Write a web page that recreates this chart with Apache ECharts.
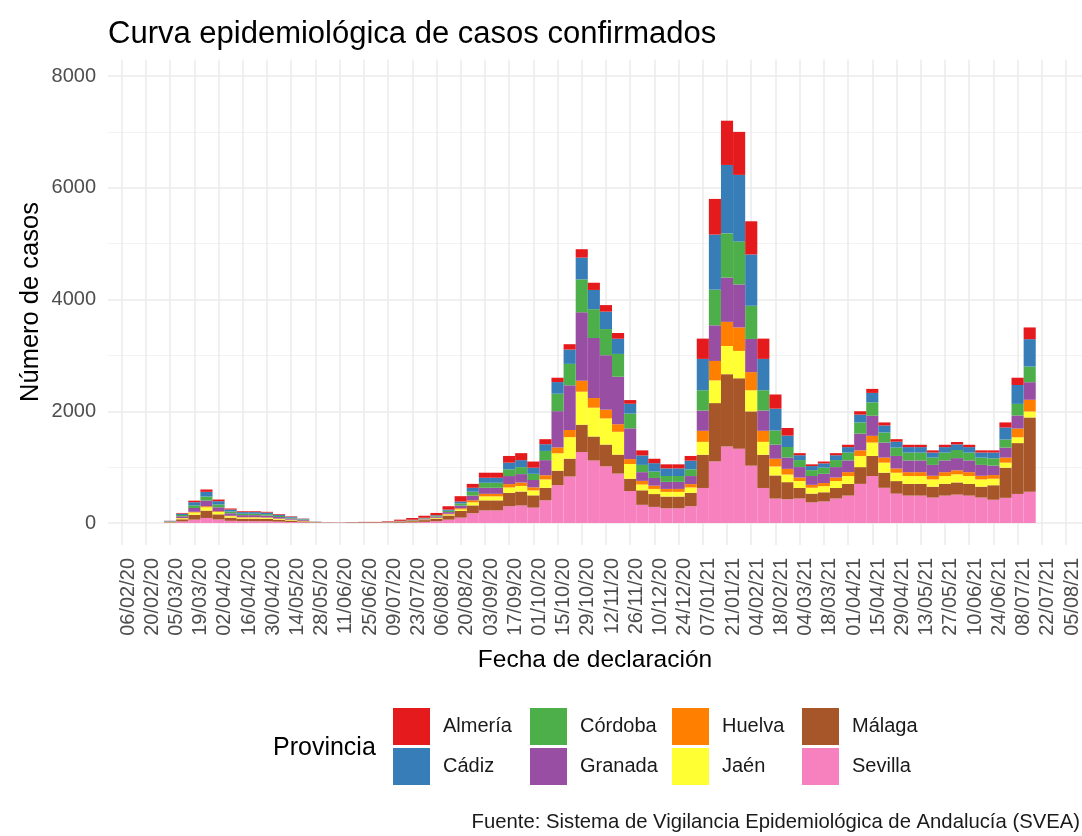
<!DOCTYPE html>
<html>
<head>
<meta charset="utf-8">
<title>Curva epidemiológica de casos confirmados</title>
<script src="https://cdn.jsdelivr.net/npm/echarts@6/dist/echarts.min.js"></script>
<style>
  html, body { margin: 0; padding: 0; background: #fff; }
  #main { width: 1082px; height: 836px; }
</style>
</head>
<body>
<div id="main"></div>
<script>
// semanas (lunes de inicio), casos por provincia
var semanas = [
  '2020-03-02','2020-03-09','2020-03-16','2020-03-23','2020-03-30','2020-04-06','2020-04-13','2020-04-20',
  '2020-04-27','2020-05-04','2020-05-11','2020-05-18','2020-05-25','2020-06-01','2020-06-08','2020-06-15',
  '2020-06-22','2020-06-29','2020-07-06','2020-07-13','2020-07-20','2020-07-27','2020-08-03','2020-08-10',
  '2020-08-17','2020-08-24','2020-08-31','2020-09-07','2020-09-14','2020-09-21','2020-09-28','2020-10-05',
  '2020-10-12','2020-10-19','2020-10-26','2020-11-02','2020-11-09','2020-11-16','2020-11-23','2020-11-30',
  '2020-12-07','2020-12-14','2020-12-21','2020-12-28','2021-01-04','2021-01-11','2021-01-18','2021-01-25',
  '2021-02-01','2021-02-08','2021-02-15','2021-02-22','2021-03-01','2021-03-08','2021-03-15','2021-03-22',
  '2021-03-29','2021-04-05','2021-04-12','2021-04-19','2021-04-26','2021-05-03','2021-05-10','2021-05-17',
  '2021-05-24','2021-05-31','2021-06-07','2021-06-14','2021-06-21','2021-06-28','2021-07-05','2021-07-12'
];

var almeria = [2,12,28,42,30,19,15,15,14,12,9,5,2, 3,3,4,6,7,10,21,31,36,41,60,96,
  70,90,90,120,125,110,90, 78,96,150,129,117,102,66, 91,79,72,72,84,
  363,638,792,770,594,363,253,136,
  37,31,33,37,42,60,72,54,45,42,42,39,42,43,42,39,39, 90,130,210];
var cadiz = [6,25,56,84,59,36,29,29,28,22,17,11,3, 1,1,1,2,1,2,4,5,8,12,21,34,
  70,90,90,120,125,110,120, 208,256,390,344,312,272,176, 169,150,137,137,156,
  561,986,1224,1190,918,561,391,204,
  87,73,77,87,98,140,168,126,105,98,98,91,98,101,98,91,104, 216,338,490];
var cordoba = [5,22,48,72,50,31,25,25,24,19,14,10,3, 1,0,1,1,1,2,3,5,9,14,24,38,
  70,90,90,120,125,110,165, 312,384,590,516,468,408,264, 130,115,105,105,120,
  363,638,792,770,594,363,253,187,
  125,105,110,125,140,200,240,180,150,140,140,130,140,145,140,130,130, 144,208,280];
var granada = [7,31,68,102,71,44,36,36,34,27,20,14,4, 1,1,2,2,2,3,6,9,13,18,30,48,
  84,108,108,144,150,132,270, 650,800,1225,1075,975,850,550, 156,138,126,126,144,
  363,638,792,770,594,363,253,204,
  188,158,165,188,210,300,360,270,225,210,210,195,210,218,210,195,169, 180,234,315];
var huelva = [1,5,12,18,13,8,6,6,6,5,4,2,1, 0,0,0,1,1,1,2,3,5,7,12,19,
  35,45,45,60,62,55,75, 104,128,195,172,156,136,88, 65,58,53,53,60,
  198,348,432,420,324,198,138,102,
  62,52,55,62,70,100,120,90,75,70,70,65,70,72,70,65,65, 90,156,210];
var jaen = [4,18,40,60,42,26,21,21,20,16,12,8,2, 0,0,1,1,1,1,2,4,7,11,18,29,
  56,72,72,96,100,88,150, 312,384,590,516,468,408,264, 104,92,84,84,96,
  231,406,504,490,378,231,161,136,
  125,105,110,125,140,200,240,180,150,140,140,130,140,145,140,130,117, 90,104,105];
var malaga = [9,40,88,132,92,57,46,46,44,35,26,18,6, 3,2,4,5,5,7,15,22,32,45,75,120,
  140,180,180,240,250,220,225, 260,320,490,430,390,340,220, 260,230,210,210,240,
  594,1044,1296,1260,972,594,414,306,
  188,158,165,188,210,300,360,270,225,210,210,195,210,218,210,195,260, 540,910,1330];
var sevilla = [6,27,60,90,63,39,32,32,30,24,18,12,4, 1,1,2,2,2,4,7,11,20,32,60,96,
  175,225,225,300,313,275,405, 676,832,1270,1118,1014,884,572, 325,288,263,263,300,
  627,1102,1368,1330,1026,627,437,425,
  438,368,385,438,490,700,840,630,525,490,490,455,490,508,490,455,416, 450,520,560];

var provincias = ['Almería', 'Cádiz', 'Córdoba', 'Granada', 'Huelva', 'Jaén', 'Málaga', 'Sevilla'];
var valores = [almeria, cadiz, cordoba, granada, huelva, jaen, malaga, sevilla];
var colores = ['#E41A1C', '#377EB8', '#4DAF4A', '#984EA3', '#FF7F00', '#FFFF33', '#A65628', '#F781BF'];

// eje x: días desde el 06/02/20, una marca cada 14 días
var origen = Date.UTC(2020, 1, 6);
var diasEje = 546;
var pasoEje = 14;
var izq = 121.7, ancho = 944.3;   // píxeles del 06/02/20 al 05/08/21
var pxDia = ancho / diasEje;

function diaDe(fecha) {
  var p = fecha.split('-');
  return (Date.UTC(+p[0], +p[1] - 1, +p[2]) - origen) / 86400000;
}
function etiquetaFecha(v) {
  var d = new Date(origen + v * 86400000);
  var dd = ('0' + d.getUTCDate()).slice(-2);
  var mm = ('0' + (d.getUTCMonth() + 1)).slice(-2);
  var yy = String(d.getUTCFullYear()).slice(-2);
  return dd + '/' + mm + '/' + yy;
}

// la rejilla de barras cubre exactamente las semanas con datos
var diaIni = diaDe(semanas[0]) - 0.5;
var diaFin = diaDe(semanas[semanas.length - 1]) + 6.5;
var gridBarras = { left: izq + diaIni * pxDia, width: (diaFin - diaIni) * pxDia, top: 76, height: 447 };

var fuente = '"Liberation Sans", Arial, Helvetica, sans-serif';
var myChart = echarts.init(document.getElementById('main'));

var series = [];
// ggplot apila el primer nivel arriba: Sevilla abajo, Almería arriba
for (var i = provincias.length - 1; i >= 0; i--) {
  series.push({
    name: provincias[i],
    type: 'bar',
    stack: 'casos',
    xAxisIndex: 3,
    yAxisIndex: 3,
    barWidth: '100%',
    itemStyle: { color: colores[i] },
    data: valores[i]
  });
}

function leyenda(nombres, x) {
  return {
    data: nombres,
    orient: 'vertical',
    left: x,
    top: 708,
    padding: 0,
    itemWidth: 37,
    itemHeight: 37,
    itemGap: 3,
    icon: 'rect',
    selectedMode: false,
    textStyle: { fontSize: 20, color: '#1a1a1a', fontFamily: fuente, padding: [0, 0, 0, 8] }
  };
}

var option = {
  animation: false,
  backgroundColor: '#fff',
  textStyle: { fontFamily: fuente },
  grid: [
    { left: 108, right: 0, top: 76, height: 447 },          // líneas horizontales
    { left: izq, width: ancho, top: 59.5, height: 485.5 },   // líneas verticales
    { left: izq + 6.3, width: ancho, top: 59.5, height: 485.5 }, // etiquetas de fecha
    gridBarras                                               // barras
  ],
  xAxis: [
    { gridIndex: 0, type: 'value', show: false },
    {
      gridIndex: 1, type: 'value', min: 0, max: diasEje, interval: pasoEje,
      axisLine: { show: false }, axisTick: { show: false }, axisLabel: { show: false },
      splitLine: { show: true, lineStyle: { color: '#ebebeb', width: 1.5 } }
    },
    {
      gridIndex: 2, type: 'value', min: 0, max: diasEje, interval: pasoEje,
      axisLine: { show: false }, axisTick: { show: false }, splitLine: { show: false },
      axisLabel: {
        rotate: 90, interval: 0, margin: 13, fontSize: 20, color: '#4d4d4d',
        showMinLabel: true, showMaxLabel: true, formatter: etiquetaFecha
      }
    },
    { gridIndex: 3, type: 'category', data: semanas, boundaryGap: true, show: false }
  ],
  yAxis: [
    {
      gridIndex: 0, type: 'value', min: 0, max: 8000, interval: 2000,
      axisLine: { show: false }, axisTick: { show: false },
      axisLabel: { fontSize: 20, color: '#4d4d4d', margin: 12, formatter: function (v) { return String(v); } },
      splitLine: { show: true, lineStyle: { color: '#ebebeb', width: 1.5 } },
      minorTick: { show: false, splitNumber: 2 },
      minorSplitLine: { show: true, lineStyle: { color: '#f3f3f3', width: 1 } }
    },
    { gridIndex: 1, type: 'value', show: false },
    { gridIndex: 2, type: 'value', show: false },
    { gridIndex: 3, type: 'value', min: 0, max: 8000, show: false }
  ],
  legend: [
    leyenda(['Almería', 'Cádiz'], 393),
    leyenda(['Córdoba', 'Granada'], 530),
    leyenda(['Huelva', 'Jaén'], 672),
    leyenda(['Málaga', 'Sevilla'], 802)
  ],
  graphic: [
    {
      type: 'text', x: 108, y: 34,
      style: { text: 'Curva epidemiológica de casos confirmados', fontSize: 31, fontFamily: fuente,
        fill: '#000', textAlign: 'left', textVerticalAlign: 'middle' }
    },
    {
      type: 'text', x: 31, y: 302, rotation: Math.PI / 2,
      style: { text: 'Número de casos', fontSize: 25.5, fontFamily: fuente,
        fill: '#000', textAlign: 'center', textVerticalAlign: 'middle' }
    },
    {
      type: 'text', x: 595, y: 660,
      style: { text: 'Fecha de declaración', fontSize: 24.5, fontFamily: fuente,
        fill: '#000', textAlign: 'center', textVerticalAlign: 'middle' }
    },
    {
      type: 'text', x: 273, y: 748,
      style: { text: 'Provincia', fontSize: 25, fontFamily: fuente,
        fill: '#000', textAlign: 'left', textVerticalAlign: 'middle' }
    },
    {
      type: 'text', x: 1080, y: 822,
      style: { text: 'Fuente: Sistema de Vigilancia Epidemiológica de Andalucía (SVEA)', fontSize: 20.3,
        fontFamily: fuente, fill: '#1a1a1a', textAlign: 'right', textVerticalAlign: 'middle' }
    }
  ],
  series: series
};

myChart.setOption(option);
</script>
</body>
</html>
